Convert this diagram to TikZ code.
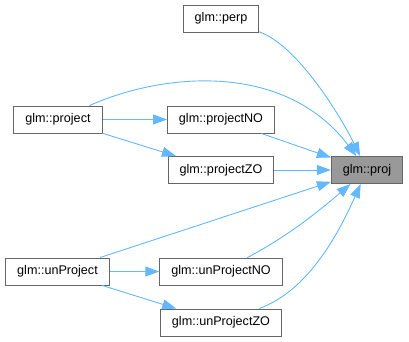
\documentclass[tikz,border=0pt]{standalone}
\usepackage{fontspec}
\setmainfont{Liberation Sans}
\usepackage{tikz}
\usetikzlibrary{arrows.meta}
\definecolor{edgeblue}{HTML}{63B8FF}
\definecolor{boxgray}{HTML}{666666}
\definecolor{selgray}{HTML}{999999}
\tikzset{
    fn-box/.style = {draw=boxgray, fill=white, line width=0.9pt, rectangle, inner xsep=11.5pt, inner ysep=0pt, minimum height=27pt, font=\fontsize{12.6}{15}\selectfont},
    fn-sel/.style = {fn-box, fill=selgray},
    call/.style = {draw=edgeblue, line width=0.9pt, -{Triangle[length=14pt, width=10pt]}},
}

\begin{document}
\begin{tikzpicture}[x=1pt, y=-1pt]
\useasboundingbox (0,0) rectangle (409,341);
% callers on the left, the called function on the right
\node[fn-sel] (proj) at (367,170) {glm::proj};
\node[fn-box] (perp) at (221,18.5) {glm::perp};
\node[fn-box] (project) at (58,119.5) {glm::project};
\node[fn-box] (projectNO) at (221,119.5) {glm::projectNO};
\node[fn-box] (projectZO) at (221,170) {glm::projectZO};
\node[fn-box] (unProject) at (57.5,271.5) {glm::unProject};
\node[fn-box] (unProjectNO) at (221,271.5) {glm::unProjectNO};
\node[fn-box] (unProjectZO) at (221,322.5) {glm::unProjectZO};

\draw[call] (perp) .. controls (297,45) and (340,115) .. (proj);
\draw[call] (project) .. controls (165,72) and (285,62) .. (proj);
\draw[call] (project) -- (projectNO);
\draw[call] (project) -- (projectZO);
\draw[call] (projectNO) -- (proj);
\draw[call] (projectZO) -- (proj);
\draw[call] (unProject) -- (proj);
\draw[call] (unProject) -- (unProjectNO);
\draw[call] (unProject) -- (unProjectZO);
\draw[call] (unProjectNO) .. controls (290,235) and (320,210) .. (proj);
\draw[call] (unProjectZO) .. controls (310,290) and (340,230) .. (proj);
\end{tikzpicture}
\end{document}
